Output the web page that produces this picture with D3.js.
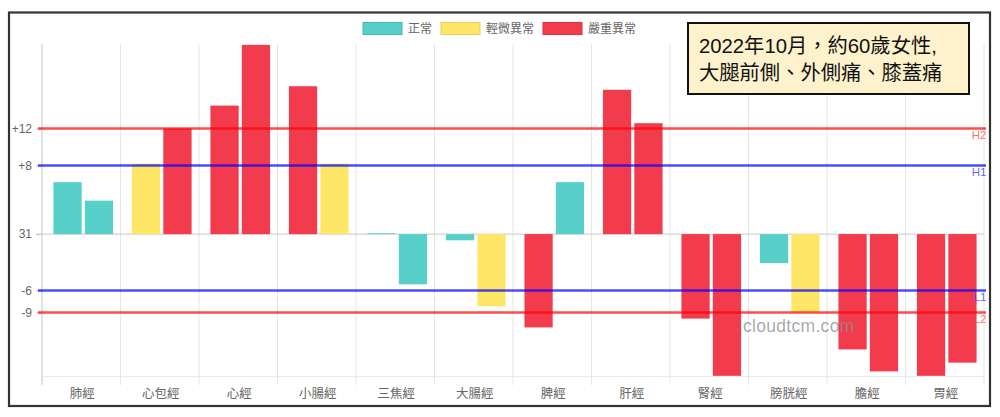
<!DOCTYPE html>
<html>
<head>
<meta charset="utf-8">
<script src="https://cdn.jsdelivr.net/npm/d3@7"></script>
<style>
html,body{margin:0;padding:0;background:#fff;}
svg{display:block;font-family:"Noto Sans CJK TC","Noto Sans",sans-serif;}
</style>
</head>
<body>
<svg id="chart" width="1000" height="417"></svg>
<script>
// ---- data ----
const categories = ["肺經","心包經","心經","小腸經","三焦經","大腸經","脾經","肝經","腎經","膀胱經","膽經","胃經"];
const leftValues  = [5.9, 8.0, 14.6, 16.8, 0.1, -0.7, -10.6, 16.4, -9.6, -3.3, -13.1, -16.1];
const rightValues = [3.8, 12.0, 21.5, 8.0, -5.7, -8.2, 5.9, 12.6, -16.1, -8.9, -15.6, -14.6];
// status: 0 正常, 1 輕微異常, 2 嚴重異常
const leftStatus  = [0, 1, 2, 2, 0, 0, 2, 2, 2, 0, 2, 2];
const rightStatus = [0, 2, 2, 1, 0, 1, 0, 2, 2, 1, 2, 2];
const legendLabels = ["正常","輕微異常","嚴重異常"];
const legendColors = ["#56d0c8","#fee766","#f23c4d"];
const legendBorders = ["#47b8b0","#e8cf5c","#e02c3d"];
const yTickValues = [12, 7.8, 0, -6.4, -8.9];
const yTickLabels = ["+12","+8","31","-6","-9"];
const thresholdValues = [12, 7.8, -6.4, -8.9];
const thresholdNames = ["H2","H1","L1","L2"];
const thresholdColors = ["rgba(255,0,0,0.7)","rgba(0,0,255,0.7)","rgba(0,0,255,0.7)","rgba(255,0,0,0.7)"];
const thresholdLabelColors = ["rgba(255,60,60,0.75)","rgba(60,60,255,0.8)","rgba(60,60,255,0.8)","rgba(255,60,60,0.75)"];
const noteLines = ["2022年10月，約60歲女性,","大腿前側、外側痛、膝蓋痛"];
const watermark = "cloudtcm.com";
const yDomain = [-16.2, 21.6];

// ---- layout ----
const svg = d3.select("#chart");
const plot = {left: 44, right: 986, top: 44, bottom: 376.7};

// frame
svg.append("rect").attr("x",9).attr("y",12.5).attr("width",981).attr("height",393.5)
  .attr("fill","#fff").attr("stroke","#333").attr("stroke-width",2.2);

const x = d3.scaleBand().domain(categories).range([plot.left, plot.right]).paddingInner(0).paddingOuter(0);
const y = d3.scaleLinear().domain(yDomain).range([plot.bottom, plot.top]);

// category percentage 0.8, bar percentage 0.9
const catW = x.bandwidth()*0.8;
const slotW = catW/2;
const barW = slotW*0.9;
function barX(i, k){ return x(categories[i]) + x.bandwidth()*0.1 + k*slotW + (slotW-barW)/2; }

// vertical gridlines
const gridG = svg.append("g");
const gx = d3.range(categories.length+1).map(i => plot.left - 2 + i*x.bandwidth());
gridG.selectAll("line.v").data(gx).join("line")
  .attr("x1",d=>d).attr("x2",d=>d).attr("y1",plot.top).attr("y2",385)
  .attr("stroke",(d,i)=> i===0 ? "#c4c4c4" : "#e6e6e6").attr("stroke-width",1);
// bottom gridline
gridG.append("line").attr("x1",42).attr("x2",984).attr("y1",plot.bottom).attr("y2",plot.bottom)
  .attr("stroke","#e6e6e6");

// y axis ticks
const yAxis = d3.axisLeft(y).tickValues(yTickValues).tickFormat((d,i)=>yTickLabels[i]).tickSize(6).tickPadding(4);
const yg = svg.append("g").attr("transform","translate(42,0)").call(yAxis);
yg.select(".domain").remove();
yg.selectAll(".tick line").attr("stroke","#c4c4c4");
yg.selectAll(".tick text").attr("fill","#666").attr("font-size",12).attr("font-family","Liberation Sans, Arial, sans-serif");

// zero line
svg.append("line").attr("x1",36).attr("x2",984).attr("y1",y(0)).attr("y2",y(0)).attr("stroke","#c8c8c8").attr("stroke-width",1);

// bars
const bars = [];
categories.forEach((c,i)=>{
  bars.push({i, k:0, v:leftValues[i], s:leftStatus[i]});
  bars.push({i, k:1, v:rightValues[i], s:rightStatus[i]});
});
svg.append("g").selectAll("rect").data(bars).join("rect")
  .attr("x", d=>barX(d.i,d.k))
  .attr("width", barW)
  .attr("y", d=>Math.min(y(d.v), y(0)))
  .attr("height", d=>Math.max(0.8, Math.abs(y(d.v)-y(0))))
  .attr("fill", d=>legendColors[d.s]);

// threshold lines
const thG = svg.append("g");
thresholdValues.forEach((v,i)=>{
  thG.append("line").attr("x1",38).attr("x2",986).attr("y1",y(v)).attr("y2",y(v))
    .attr("stroke",thresholdColors[i]).attr("stroke-width",2.6);
  thG.append("text").attr("x",986.5).attr("y",y(v)+11).attr("text-anchor","end")
    .attr("fill",thresholdLabelColors[i]).attr("font-size",11.5)
    .attr("font-family","Liberation Sans, Arial, sans-serif").text(thresholdNames[i]);
});

// x labels
svg.append("g").selectAll("text").data(categories).join("text")
  .attr("x", d=>x(d)+x.bandwidth()/2 - 1)
  .attr("y", 398)
  .attr("text-anchor","middle").attr("fill","#666").attr("font-size",12.5)
  .text(d=>d);

// legend
const legX = [363, 441, 543];
const lg = svg.append("g");
legendLabels.forEach((l,i)=>{
  lg.append("rect").attr("x",legX[i]).attr("y",22.5).attr("width",39).attr("height",12)
    .attr("fill",legendColors[i]).attr("stroke",legendBorders[i]).attr("stroke-width",1);
  lg.append("text").attr("x",legX[i]+45).attr("y",33).attr("fill","#666").attr("font-size",12).text(l);
});

// watermark
svg.append("text").attr("x",743).attr("y",332).attr("fill","rgba(140,140,140,0.75)")
  .attr("font-size",17.5).attr("font-family","Liberation Sans, Arial, sans-serif").attr("letter-spacing",0.3).text(watermark);

// note box
svg.append("rect").attr("x",688).attr("y",23).attr("width",281).attr("height",71)
  .attr("fill","#fdf2cc").attr("stroke","#111").attr("stroke-width",2);
noteLines.forEach((t,i)=>{
  svg.append("text").attr("x",699).attr("y",53 + i*27).attr("fill","#111")
    .attr("font-size",20.3).attr("font-family","Liberation Sans, 'Noto Sans CJK TC', sans-serif").text(t);
});
</script>
</body>
</html>
